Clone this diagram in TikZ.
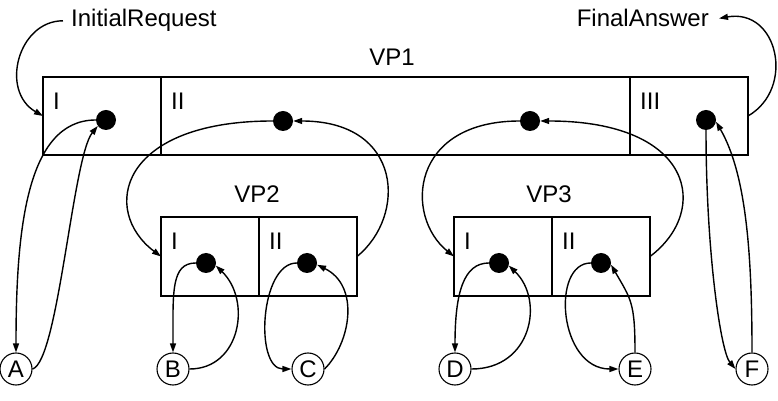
\documentclass[tikz,border=0pt]{standalone}
\usepackage{fontspec}
\setmainfont{Liberation Sans}
\usepackage{tikz}
\usetikzlibrary{arrows.meta,positioning}

\begin{document}
\begin{tikzpicture}[
  x=1pt,y=1pt,
  font=\fontsize{24}{28}\selectfont,
  cell/.style={rectangle,draw,line width=1.6pt,inner sep=0pt,outer sep=0pt,
               minimum width=98pt,minimum height=79pt},
  tag/.style={anchor=north west,inner xsep=10pt,inner ysep=16pt},
  dot/.style={circle,fill,inner sep=0pt,minimum size=20pt},
  leaf/.style={circle,draw,line width=1.1pt,inner sep=0pt,minimum size=32pt},
  arrow/.style={-{Triangle[length=9pt,width=6pt]},line width=1.4pt},
]
\useasboundingbox (0,0) rectangle (778,401);
\node[anchor=base west,inner xsep=8pt]  (ireq) at (63,374)  {InitialRequest};
\node[anchor=base east,inner xsep=10pt] (fans) at (719,374) {FinalAnswer};
\node[cell,minimum width=118pt,minimum height=78pt,label={[tag]north west:I}] (p1i) at (102,285) {};
\node[cell,minimum width=469pt,minimum height=78pt,right=0pt of p1i,label={[tag]north west:II}]  (p1ii)  {};
\node[cell,minimum width=118pt,minimum height=78pt,right=0pt of p1ii,label={[tag]north west:III}] (p1iii) {};
\node[anchor=base] (vp1) at (392,335) {VP1};
\node[cell,label={[tag]north west:I}] (p2i) at (210,144.5) {};
\node[cell,right=0pt of p2i,label={[tag]north west:II}] (p2ii) {};
\node[anchor=base] (vp2) at (257,198) {VP2};
\node[cell,label={[tag]north west:I}] (p3i) at (503,144.5) {};
\node[cell,right=0pt of p3i,label={[tag]north west:II}] (p3ii) {};
\node[anchor=base] (vp3) at (549,198) {VP3};
\node[dot] (d1) at (106,281) {}; \node[dot] (d2) at (283,280) {};
\node[dot] (d3) at (530,280) {}; \node[dot] (d4) at (706,281) {};
\node[dot] (e1) at (206,138) {}; \node[dot] (e2) at (307,138) {};
\node[dot] (e3) at (499,138) {}; \node[dot] (e4) at (601,138) {};
\node[leaf] (A) at (16,32)  {A};  \node[leaf] (B) at (173,32) {B};
\node[leaf] (C) at (308,32) {C};  \node[leaf] (D) at (455,32) {D};
\node[leaf] (E) at (635,32) {E};  \node[leaf] (F) at (752,32) {F};
\draw[arrow] (ireq.west) to[out=180,in=150,out distance=45pt,in distance=50pt] (p1i.west);
\draw[arrow] (p1iii.east) to[out=30,in=10,out distance=55pt,in distance=60pt] (fans.east);
\draw[arrow] (d2.west) to[out=180,in=143,out distance=154pt,in distance=76pt] (p2i.west);
\draw[arrow] (p2ii.east) to[out=39,in=0,out distance=64pt,in distance=110pt] (d2.east);
\draw[arrow] (d3.west) to[out=180,in=141,out distance=110pt,in distance=64pt] (p3i.west);
\draw[arrow] (p3ii.east) to[out=37,in=0,out distance=76pt,in distance=154pt] (d3.east);
\draw[arrow] (d1.west) to[out=180,in=90,out distance=70pt,in distance=120pt] (A.north);
\draw[arrow] (A.east) to[out=17,in=231,out distance=27pt,in distance=40pt] (d1.216);
\draw[arrow] (e1.west) to[out=180,in=90,out distance=25pt,in distance=60pt] (B.north);
\draw[arrow] (B.east) to[out=0,in=-44,out distance=51pt,in distance=50pt] (e1.-15);
\draw[arrow] (e2.west) to[out=180,in=180,out distance=37pt,in distance=37pt] (C.west);
\draw[arrow] (C.east) to[out=45,in=-26,out distance=37pt,in distance=48pt] (e2.-10);
\draw[arrow] (e3.west) to[out=180,in=90,out distance=25pt,in distance=60pt] (D.north);
\draw[arrow] (D.east) to[out=0,in=-44,out distance=60pt,in distance=50pt] (e3.-15);
\draw[arrow] (e4.west) to[out=180,in=180,out distance=40pt,in distance=60pt] (E.west);
\draw[arrow] (E.north) to[out=90,in=-60,out distance=50pt,in distance=40pt] (e4.-10);
\draw[arrow] (d4.south) to[out=-90,in=130,out distance=121pt,in distance=23pt] (F.west);
\draw[arrow] (F.north) to[out=90,in=-60,out distance=100pt,in distance=60pt] (d4.-10);
\end{tikzpicture}
\end{document}
